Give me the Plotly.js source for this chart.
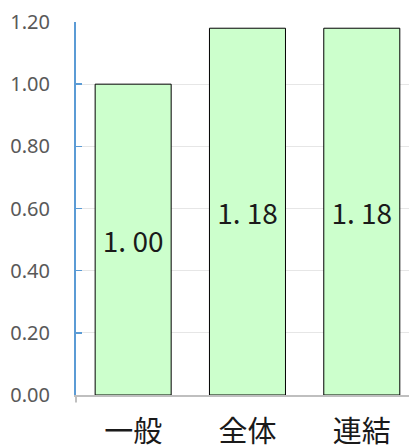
<!DOCTYPE html>
<html>
<head>
<meta charset="utf-8">
<script src="https://cdn.plot.ly/plotly-3.0.1.min.js"></script>
<style>html,body{margin:0;padding:0;background:#fff;}#chart{width:409px;height:445px;}</style>
</head>
<body>
<div id="chart"></div>
<script>
var categories = ["一般", "全体", "連結"];
var values = [1.00, 1.18, 1.18];
var valueLabels = ["1. 00", "1. 18", "1. 18"];
var yTickVals = [0, 0.2, 0.4, 0.6, 0.8, 1.0, 1.2];
var yTickText = ["0.00", "0.20", "0.40", "0.60", "0.80", "1.00", "1.20"];

var trace = {
  type: "bar",
  x: categories,
  y: values,
  text: valueLabels,
  textposition: "inside",
  insidetextanchor: "middle",
  textangle: 0,
  textfont: {family: "Noto Sans CJK JP", size: 28, color: "#1a1a1a"},
  marker: {color: "#CCFFCC", line: {color: "#000000", width: 1}},
  hoverinfo: "none"
};

var layout = {
  width: 409,
  height: 445,
  margin: {l: 76, r: 0, t: 22, b: 50, pad: 0},
  paper_bgcolor: "#ffffff",
  plot_bgcolor: "#ffffff",
  showlegend: false,
  bargap: 0.335,
  xaxis: {
    type: "category",
    range: [-0.5, 2.413],
    showgrid: false,
    showline: true,
    linecolor: "#bfbfbf",
    linewidth: 2,
    ticks: "",
    tickfont: {family: "Noto Sans CJK JP", size: 29, color: "#1a1a1a"},
    ticklabelstandoff: 10,
    fixedrange: true
  },
  yaxis: {
    range: [0, 1.2],
    tickvals: yTickVals,
    ticktext: yTickText,
    showgrid: true,
    gridcolor: "#e6e6e6",
    gridwidth: 1,
    zeroline: false,
    showline: true,
    linecolor: "#5B9BD5",
    linewidth: 2,
    ticks: "inside",
    ticklen: 6,
    tickwidth: 1.5,
    tickcolor: "#5B9BD5",
    tickfont: {family: "Noto Sans", size: 20, color: "#595959"},
    ticklabelstandoff: 20,
    fixedrange: true
  },
  shapes: [{
    type: "line", xref: "paper", yref: "paper",
    x0: 0, x1: 0, y0: 0, y1: -0.02,
    line: {color: "#bfbfbf", width: 2}
  }]
};

Plotly.newPlot("chart", [trace], layout, {displayModeBar: false, staticPlot: true});
</script>
</body>
</html>
